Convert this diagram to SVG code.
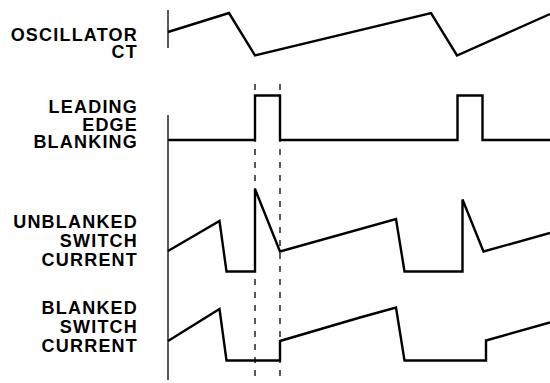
<svg xmlns="http://www.w3.org/2000/svg" width="550" height="383" viewBox="0 0 550 383">
<style>
.lbl{font-family:"Liberation Sans",Arial,sans-serif;font-weight:bold;font-size:18px;letter-spacing:1.2px;fill:#000;text-anchor:end}
.wave{fill:none;stroke:#000;stroke-width:2.4;stroke-linejoin:miter;stroke-linecap:butt}
.axis{fill:none;stroke:#222;stroke-width:1.5}
.dash{fill:none;stroke:#000;stroke-width:1.3;stroke-dasharray:6 7}
</style>
<rect width="550" height="383" fill="#fff"/>
<g id="guides">
<line class="dash" x1="255" y1="84" x2="255" y2="383"/>
<line class="dash" x1="280" y1="84" x2="280" y2="383"/>
</g>
<g id="oscillator">
<text class="lbl" x="138" y="41">OSCILLATOR</text>
<text class="lbl" x="138" y="58">CT</text>
<line class="axis" x1="168" y1="10" x2="168" y2="48"/>
<polyline class="wave" points="168,32 229,13 255,55.5 431,13 457,55.5 550,14"/>
</g>
<g id="leb">
<text class="lbl" x="138" y="113">LEADING</text>
<text class="lbl" x="138" y="130.5">EDGE</text>
<text class="lbl" x="138" y="148">BLANKING</text>
<polyline class="wave" points="168,140 255,140 255,95.5 280,95.5 280,140 457.5,140 457.5,95.5 482.5,95.5 482.5,140 550,140"/>
</g>
<line class="axis" x1="168" y1="115" x2="168" y2="380"/>
<g id="unblanked">
<text class="lbl" x="138" y="228">UNBLANKED</text>
<text class="lbl" x="138" y="247">SWITCH</text>
<text class="lbl" x="138" y="266">CURRENT</text>
<polyline class="wave" points="168,251 219.5,221 226.5,271.5 255,271.5 255,189 280,251.5 396,219 404.5,271.5 462.5,271.5 462.5,199.5 483.5,251.5 550,233"/>
</g>
<g id="blanked">
<text class="lbl" x="138" y="314">BLANKED</text>
<text class="lbl" x="138" y="333">SWITCH</text>
<text class="lbl" x="138" y="352">CURRENT</text>
<polyline class="wave" points="168,341 219.5,309 226.5,360.5 280,360.5 280,341 360,317.5 396,307.5 404.5,360.5 486,360.5 486,340.5 550,322.5"/>
</g>
</svg>
